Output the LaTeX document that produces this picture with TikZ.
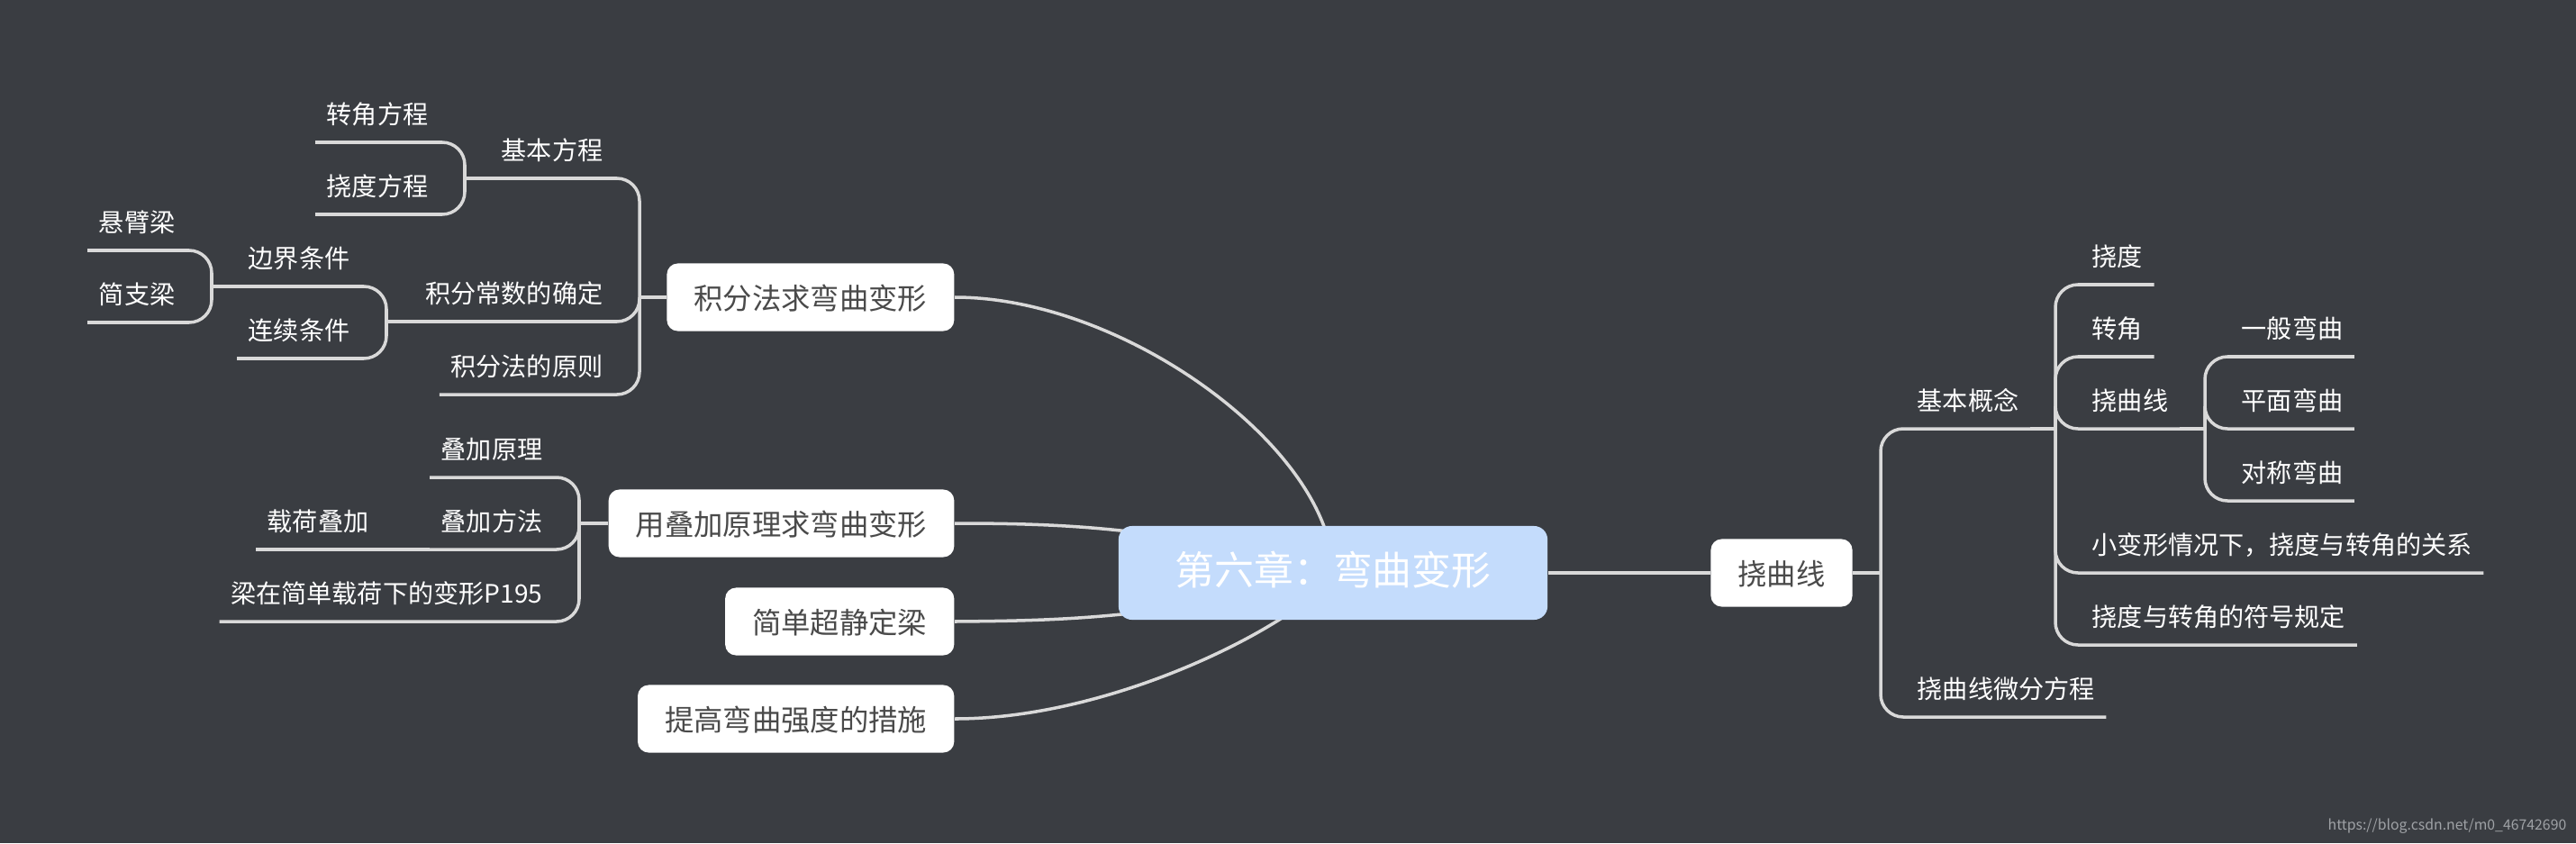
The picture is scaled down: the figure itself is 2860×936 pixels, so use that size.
\documentclass[tikz,border=0pt]{standalone}
\usepackage{fontspec}
\newfontfamily\cjk{Noto Sans CJK SC}
\usetikzlibrary{backgrounds,positioning}
\definecolor{Board}{HTML}{3A3D42}
\definecolor{Wire}{HTML}{D9D9D9}
\definecolor{Sky}{HTML}{C4DCFC}
\definecolor{Slate}{HTML}{4A4A4A}
\definecolor{Faint}{HTML}{9FA2A6}
\tikzset{
  root/.style={
    rounded corners=0.15cm, fill=Sky, text=white,
    font=\cjk\fontsize{12.5}{14}\selectfont,
    minimum width=4.76cm, minimum height=1.04cm,
    text height=0.88em, text depth=0.12em
  },
  topic/.style={
    rounded corners=0.12cm, fill=white, text=Slate,
    font=\cjk\fontsize{9.2}{11}\selectfont,
    inner xsep=0.3cm, minimum height=0.75cm,
    text height=0.88em, text depth=0.12em
  },
  leaf/.style={
    text=white, font=\cjk\fontsize{8}{10}\selectfont,
    inner xsep=0.12cm, inner ysep=0.158cm,
    text height=0.88em, text depth=0.12em
  },
  rleaf/.style={leaf, anchor=south west},
  lleaf/.style={leaf, anchor=south east},
  wire/.style={draw=Wire, line width=1pt, rounded corners=0.25cm},
  stamp/.style={text=Faint, font=\cjk\fontsize{4.5}{5}\selectfont, anchor=east, inner sep=0pt}
}
\begin{document}
\begin{tikzpicture}[x=0.01cm,y=-0.01cm]
  \useasboundingbox (0,0) rectangle (2860,936);
  \node[root] (main) at (1480,636) {第六章：弯曲变形};
  \node[topic,anchor=east] (jf) at (1060,330) {积分法求弯曲变形};
  \node[topic,anchor=east] (dj) at (1060,581) {用叠加原理求弯曲变形};
  \node[topic,anchor=east] (cj) at (1060,690) {简单超静定梁};
  \node[topic,anchor=east] (tg) at (1060,798) {提高弯曲强度的措施};
  \node[topic] (nq) at (1978,636) {挠曲线};

  \coordinate (a1) at (710,330);
  \node[lleaf] (jbfc) at (682,198) {基本方程};
  \node[lleaf] (jfcs) at (682,357) {积分常数的确定};
  \node[lleaf] (jfyz) at (682,438) {积分法的原则};
  \coordinate (a2) at (516,198);
  \node[lleaf] (zjfc) at (488,158) {转角方程};
  \node[lleaf] (ndfc) at (488,238) {挠度方程};
  \coordinate (a3) at (429,357);
  \node[lleaf] (bjtj) at (401,318) {边界条件};
  \node[lleaf] (lxtj) at (401,398) {连续条件};
  \coordinate (a4) at (235,318);
  \node[lleaf] (xbl) at (207,278) {悬臂梁};
  \node[lleaf] (jzl) at (207,358) {简支梁};

  \coordinate (a5) at (643,581);
  \node[lleaf] (djyl) at (615,530) {叠加原理};
  \node[lleaf] (djff) at (615,610) {叠加方法};
  \node[lleaf] (lzbx) at (615,690) {梁在简单载荷下的变形P195};
  \coordinate (a6) at (450,610);
  \node[lleaf] (hzdj) at (422,610) {载荷叠加};

  \coordinate (b1) at (2088,636);
  \node[rleaf] (jbgn) at (2116,476) {基本概念};
  \node[rleaf] (wffc) at (2116,796) {挠曲线微分方程};
  \coordinate (b2) at (2282,476);
  \node[rleaf] (nd) at (2310,316) {挠度};
  \node[rleaf] (zj) at (2310,396) {转角};
  \node[rleaf] (nqx) at (2310,476) {挠曲线};
  \node[rleaf] (xbx) at (2310,636) {小变形情况下，挠度与转角的关系};
  \node[rleaf] (fhgd) at (2310,716) {挠度与转角的符号规定};
  \coordinate (b3) at (2448,476);
  \node[rleaf] (ybwq) at (2476,396) {一般弯曲};
  \node[rleaf] (pmwq) at (2476,476) {平面弯曲};
  \node[rleaf] (dcwq) at (2476,556) {对称弯曲};

  \node[stamp] (wm) at (2850,917) {https://blog.csdn.net/m0\_46742690};

  \begin{scope}[on background layer]
    \fill[Board] (0,0) rectangle (2860,936);
    \draw[wire] (main) -- (nq);
    \draw[wire] (jf.east) .. controls (1250,330) and (1480,500) .. (main.center);
    \draw[wire] (dj.east) .. controls (1180,581) and (1300,585) .. (main.center);
    \draw[wire] (cj.east) .. controls (1180,689) and (1300,687) .. (main.center);
    \draw[wire] (tg.east) .. controls (1250,798) and (1460,680) .. (main.center);

    \draw[wire] (jf.west) -- (a1);
    \foreach \k in {jbfc,jfcs,jfyz} \draw[wire] (a1) |- (\k.south west);
    \draw[wire] (jbfc.south west) -- (a2);
    \foreach \k in {zjfc,ndfc} \draw[wire] (a2) |- (\k.south west);
    \draw[wire] (jfcs.south west) -- (a3);
    \foreach \k in {bjtj,lxtj} \draw[wire] (a3) |- (\k.south west);
    \draw[wire] (bjtj.south west) -- (a4);
    \foreach \k in {xbl,jzl} \draw[wire] (a4) |- (\k.south west);

    \draw[wire] (dj.west) -- (a5);
    \foreach \k in {djyl,djff,lzbx} \draw[wire] (a5) |- (\k.south west);
    \draw[wire] (djff.south west) -- (a6) -- (hzdj.south west);

    \draw[wire] (nq.east) -- (b1);
    \foreach \k in {jbgn,wffc} \draw[wire] (b1) |- (\k.south east);
    \draw[wire] (jbgn.south east) -- (b2);
    \foreach \k in {nd,zj,nqx,xbx,fhgd} \draw[wire] (b2) |- (\k.south east);
    \draw[wire] (nqx.south east) -- (b3);
    \foreach \k in {ybwq,pmwq,dcwq} \draw[wire] (b3) |- (\k.south east);
  \end{scope}
\end{tikzpicture}
\end{document}
